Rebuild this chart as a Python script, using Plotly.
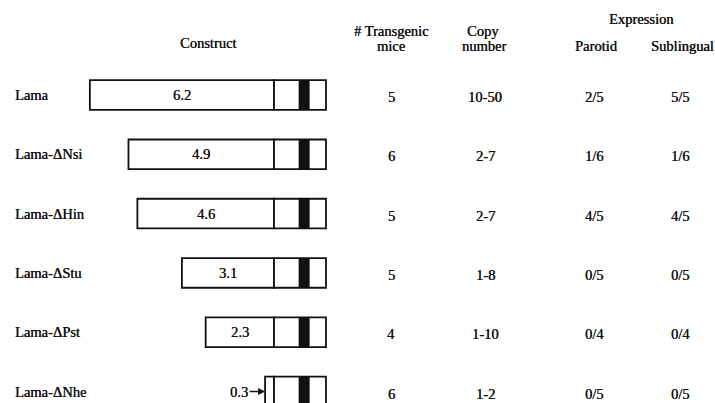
import plotly.graph_objects as go

# Table data
constructs = ["Lama", "Lama-ΔNsi", "Lama-ΔHin", "Lama-ΔStu", "Lama-ΔPst", "Lama-ΔNhe"]
upstream_kb = [6.2, 4.9, 4.6, 3.1, 2.3, 0.3]
transgenic_mice = ["5", "6", "5", "5", "4", "6"]
copy_number = ["10-50", "2-7", "2-7", "1-8", "1-10", "1-2"]
parotid = ["2/5", "1/6", "4/5", "0/5", "0/4", "0/5"]
sublingual = ["5/5", "1/6", "4/5", "0/5", "0/4", "0/5"]

# Gene body drawn to the right of the junction (kb)
gene_kb = 1.75
exon_start_kb = 0.83
exon_len_kb = 0.37

# Layout geometry
W, H = 715, 403
PX_PER_KB = 29.7
JUNCTION_PX = 274
ROW0_PX, ROW_STEP_PX = 95, 59.3
FONT = "Liberation Serif, Times New Roman, serif"
INK = "#111111"
FONT_STYLE = dict(family=FONT, size=14.5, color=INK, shadow="0.3px 0 0 #111111")

rows = list(range(len(constructs)))

fig = go.Figure()
box_line = dict(color=INK, width=1.8)
fig.add_trace(go.Bar(
    y=rows, x=upstream_kb, base=[-v for v in upstream_kb], orientation="h",
    width=0.5, marker=dict(color="white", line=box_line), hoverinfo="skip"))
fig.add_trace(go.Bar(
    y=rows, x=[gene_kb] * len(rows), base=[0] * len(rows), orientation="h",
    width=0.5, marker=dict(color="white", line=box_line), hoverinfo="skip"))
fig.add_trace(go.Bar(
    y=rows, x=[exon_len_kb] * len(rows), base=[exon_start_kb] * len(rows),
    orientation="h", width=0.5,
    marker=dict(color=INK, line=dict(width=0)), hoverinfo="skip"))

annotations = []


def txt(text, x, y, xref="paper", yref="paper", **kw):
    d = dict(text=text, x=x, y=y, xref=xref, yref=yref, showarrow=False,
             font=FONT_STYLE)
    d.update(kw)
    annotations.append(d)


# Column headers
def hdr(text, xpx, ypx):
    txt(text, xpx / W, 1 - ypx / H, xanchor="center", yanchor="middle")


hdr("Construct", 208, 43)
hdr("# Transgenic", 391, 31)
hdr("mice", 391, 46)
hdr("Copy", 483, 31)
hdr("number", 484, 46)
hdr("Expression", 641, 19)
hdr("Parotid", 596, 46)
hdr("Sublingual", 682, 46)

# Row contents
col_px = [391, 485, 594, 680]
for i in rows:
    txt(constructs[i], 13 / W, i, yref="y", xanchor="left", yanchor="middle")
    for cx, col in zip(col_px, [transgenic_mice, copy_number, parotid, sublingual]):
        txt(col[i], cx / W, i, yref="y", xanchor="center", yanchor="middle", yshift=-2)
    if upstream_kb[i] >= 1:
        txt(f"{upstream_kb[i]:.1f}", -upstream_kb[i] / 2, i, xref="x", yref="y",
            xanchor="center", yanchor="middle")
    else:
        # short upstream segment labelled with an arrow
        annotations.append(dict(
            text=f"{upstream_kb[i]:.1f}", x=-upstream_kb[i], y=i, xref="x", yref="y",
            showarrow=True, ax=-26, ay=0, arrowhead=2, arrowsize=1, arrowwidth=1.4,
            arrowcolor=INK, standoff=0, font=FONT_STYLE))

fig.update_layout(
    width=W, height=H, margin=dict(l=0, r=0, t=0, b=0),
    paper_bgcolor="white", plot_bgcolor="white",
    barmode="overlay", showlegend=False, annotations=annotations,
    xaxis=dict(range=[-JUNCTION_PX / PX_PER_KB, (W - JUNCTION_PX) / PX_PER_KB],
               visible=False, fixedrange=True),
    yaxis=dict(range=[(H - ROW0_PX) / ROW_STEP_PX, -ROW0_PX / ROW_STEP_PX],
               visible=False, fixedrange=True),
)

fig.write_html("out.html")
